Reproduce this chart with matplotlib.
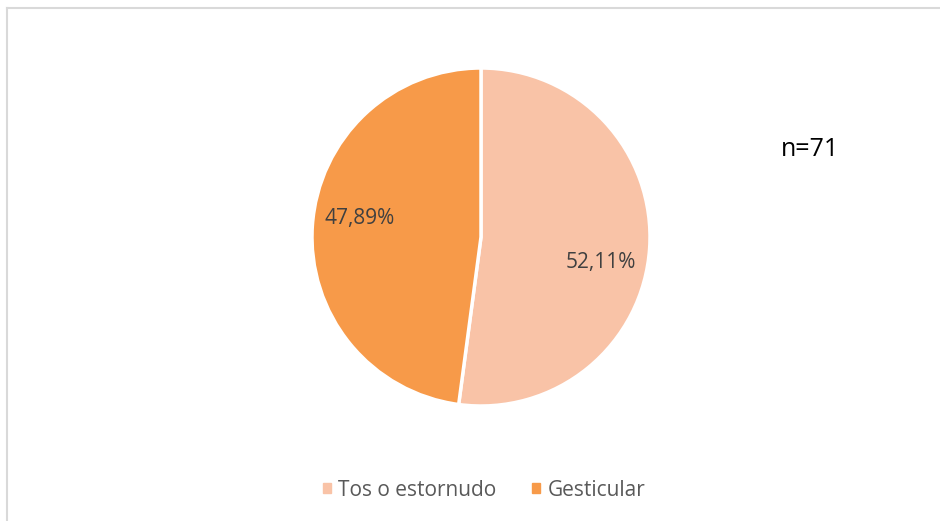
import matplotlib.pyplot as plt
from matplotlib.lines import Line2D

# Datos del gráfico
categorias = ['Tos o estornudo', 'Gesticular']
porcentajes = [52.11, 47.89]
colores = ['#F9C3A7', '#F79A49']
nota = 'n=71'
# posiciones de las etiquetas (en radios del pastel)
pos_etiquetas = [(0.71, -0.148), (-0.716, 0.107)]

plt.rcParams['font.family'] = ['Open Sans', 'DejaVu Sans']

fig = plt.figure(figsize=(9.4, 5.21), dpi=100)

# pie area: centre ~ (481, 237) px, radius ~169 px
cx, cy, r = 481, 237, 169
ax = fig.add_axes([(cx - r) / 940, (521 - cy - r) / 521, 2 * r / 940, 2 * r / 521])

wedges, texts, autotexts = ax.pie(
    porcentajes, colors=colores, startangle=90, counterclock=False,
    autopct=lambda p: f'{p:.2f}%'.replace('.', ','), pctdistance=0.72,
    wedgeprops=dict(edgecolor='white', linewidth=2.5),
    textprops=dict(color='#404040', fontsize=15))
for t, p in zip(autotexts, pos_etiquetas):
    t.set_position(p)
ax.set_xlim(-1, 1)
ax.set_ylim(-1, 1)
ax.set_aspect('equal')

fig.text(781 / 940, 1 - 150 / 521, nota, fontsize=18, color='black',
         ha='left', va='center')

handles = [plt.Rectangle((0, 0), 1, 1, color=c) for c in colores]
fig.legend(handles, categorias, loc='center', bbox_to_anchor=(484 / 940, 1 - 490 / 521),
           ncol=2, frameon=False, fontsize=15, handlelength=0.4, handleheight=0.4,
           handletextpad=0.35, columnspacing=1.7, labelcolor='#595959')

# chart border (only left and top visible)
fig.add_artist(Line2D([7.5 / 940, 7.5 / 940], [0, 1 - 8 / 521], color='#D9D9D9', lw=1.5))
fig.add_artist(Line2D([7.5 / 940, 1], [1 - 8 / 521, 1 - 8 / 521], color='#D9D9D9', lw=1.5))

fig.savefig('out.png', dpi=100)
